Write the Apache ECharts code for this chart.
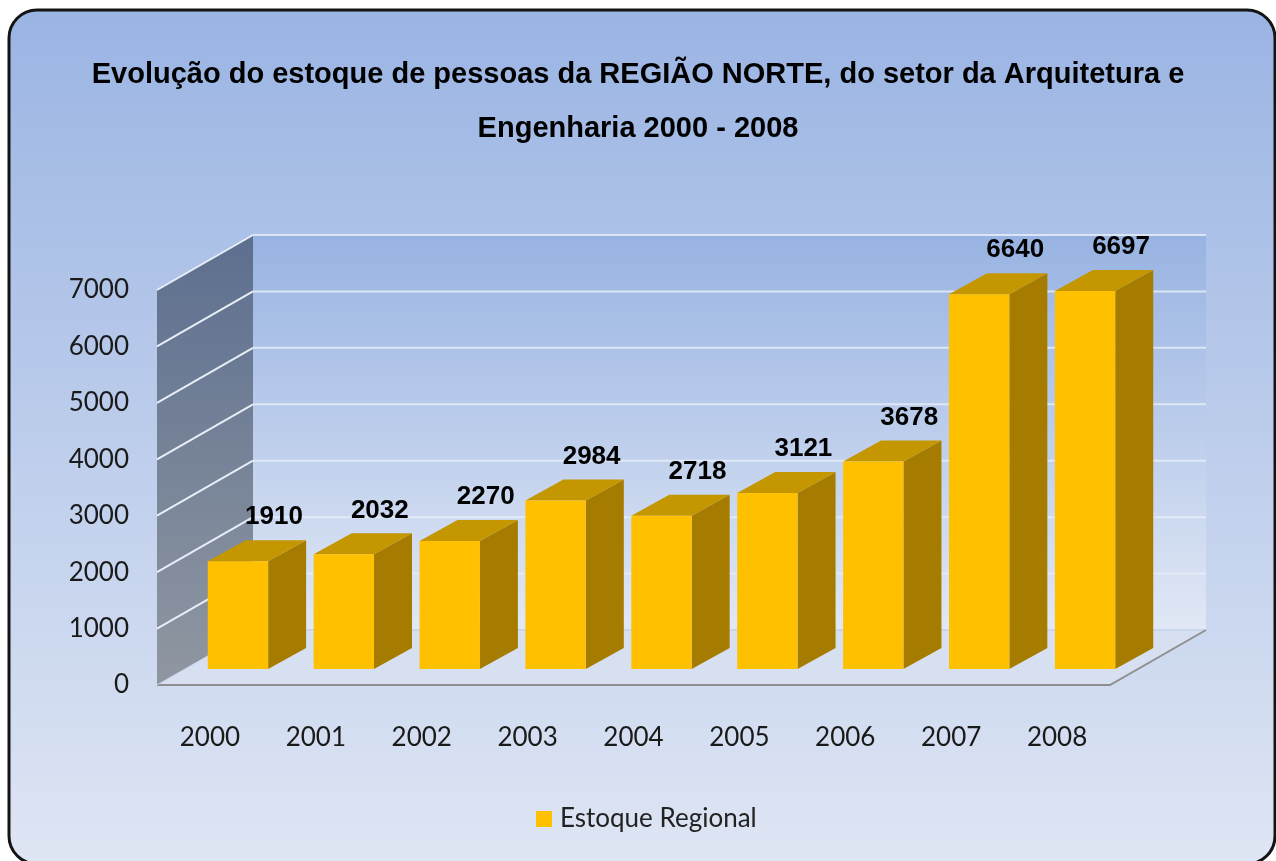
<!DOCTYPE html>
<html>
<head>
<meta charset="utf-8">
<script src="https://cdn.jsdelivr.net/npm/echarts@6/dist/echarts.min.js"></script>
<style>
html,body{margin:0;padding:0;background:#ffffff;}
#chart{width:1276px;height:861px;}
</style>
</head>
<body>
<div id="chart"></div>
<script>
// ---- data ----
const categories = ['2000','2001','2002','2003','2004','2005','2006','2007','2008'];
const values = [1910, 2032, 2270, 2984, 2718, 3121, 3678, 6640, 6697];
const seriesName = 'Estoque Regional';
const titleLines = ['Evolução do estoque de pessoas da REGIÃO NORTE, do setor da Arquitetura e', 'Engenharia 2000 - 2008'];
const yMin = 0, yMax = 7000, yStep = 1000;

// ---- 3D styling (pixels) ----
const WALL = [96, -55];      // depth of the chart box
const FRONT = [28, -16];     // front face plane of the bars
const BAR = [38, -21];       // depth of bars
const BAR_W = 0.57;          // bar width fraction of category

const chart = echarts.init(document.getElementById('chart'));

function wallsRender(params, api) {
  const cs = params.coordSys;
  const x0 = cs.x, x1 = cs.x + cs.width;
  const yb = api.coord([0, yMin])[1];
  const yt = api.coord([0, yMax])[1];
  const dx = WALL[0], dy = WALL[1];
  const children = [];
  children.push({type:'rect', shape:{x:x0+dx, y:yt+dy, width:cs.width, height:yb-yt},
    style:{fill:new echarts.graphic.LinearGradient(0,0,0,1,[{offset:0,color:'#98B3E2'},{offset:1,color:'#E1E8F5'}])}});
  children.push({type:'polygon', shape:{points:[[x0,yt],[x0+dx,yt+dy],[x0+dx,yb+dy],[x0,yb]]},
    style:{fill:new echarts.graphic.LinearGradient(0,0,0,1,[{offset:0,color:'#5D6F8F'},{offset:1,color:'#9097A1'}])}});
  children.push({type:'polygon', shape:{points:[[x0,yb],[x0+dx,yb+dy],[x1+dx,yb+dy],[x1,yb]]},
    style:{fill:'#D7E0F1'}});
  for (let v = yMin + yStep; v <= yMax; v += yStep) {
    const y = api.coord([0, v])[1];
    children.push({type:'line', shape:{x1:x0+dx, y1:y+dy, x2:x1+dx, y2:y+dy}, style:{stroke:'#E4ECF8', lineWidth:2, opacity:0.85}});
    children.push({type:'line', shape:{x1:x0, y1:y, x2:x0+dx, y2:y+dy}, style:{stroke:'#E8EEF8', lineWidth:2}});
  }
  children.push({type:'line', shape:{x1:x0+dx, y1:yb+dy, x2:x1+dx, y2:yb+dy}, style:{stroke:'#C2D0EA', lineWidth:1.5}});
  children.push({type:'polyline', shape:{points:[[x0,yb],[x1,yb],[x1+dx,yb+dy]]}, style:{stroke:'#8F8F8F', lineWidth:2, fill:null}});
  children.push({type:'line', shape:{x1:x0, y1:yb, x2:x0+dx, y2:yb+dy}, style:{stroke:'#C8D2E4', lineWidth:1}});
  return {type:'group', children};
}

function barsRender(params, api) {
  const i = api.value(0), v = api.value(1);
  const top = api.coord([i, v]);
  const base = api.coord([i, 0]);
  const bw = api.size([1, 0])[0] * BAR_W;
  const x0 = top[0] - bw/2 + FRONT[0], x1 = x0 + bw;
  const yt = top[1] + FRONT[1], yb = base[1] + FRONT[1];
  const bx = BAR[0], by = BAR[1];
  return {type:'group', children:[
    {type:'polygon', shape:{points:[[x1,yt],[x1+bx,yt+by],[x1+bx,yb+by],[x1,yb]]}, style:{fill:'#A67C00'}},
    {type:'polygon', shape:{points:[[x0,yt],[x0+bx,yt+by],[x1+bx,yt+by],[x1,yt]]}, style:{fill:'#C49600'}},
    {type:'rect', shape:{x:x0, y:yt, width:bw, height:yb-yt}, style:{fill:'#FFC000'}},
    {type:'text', x: top[0] + FRONT[0] + 36, y: yt - 44,
      style:{text:String(v), fill:'#000', font:'bold 26px "Liberation Sans", Arial, sans-serif', align:'center', verticalAlign:'middle'}}
  ]};
}

chart.setOption({
  backgroundColor: 'transparent',
  animation: false,
  graphic: [{
    type:'rect', z:-10, silent:true,
    shape:{x:9, y:10, width:1266, height:854, r:28},
    style:{fill:new echarts.graphic.LinearGradient(0,0,0,1,[{offset:0,color:'#9AB4E3'},{offset:1,color:'#DFE6F4'}]), stroke:'#141414', lineWidth:3}
  }],
  title: {
    text: titleLines.join('\n'),
    left: 'center', top: 43,
    textStyle: {fontFamily:'"Liberation Sans", Arial, sans-serif', fontWeight:'bold', fontSize:29, lineHeight:54, color:'#000'}
  },
  legend: {
    data:[seriesName], left: 531, top: 801, itemWidth:16, itemHeight:16, icon:'rect', itemGap:10,
    textStyle:{fontFamily:'Lato, "Open Sans", sans-serif', fontSize:26, color:'#222', padding:[0,0,0,3]}
  },
  grid: {left:157, right:1276-1110, top:290, bottom:861-685},
  xAxis: {
    type:'category', data:categories,
    axisLine:{show:false}, axisTick:{show:false},
    axisLabel:{margin:40, fontFamily:'Lato, "Open Sans", sans-serif', fontSize:26, color:'#1a1a1a'}
  },
  yAxis: {
    type:'value', min:yMin, max:yMax, interval:yStep,
    axisLine:{show:false}, axisTick:{show:false}, splitLine:{show:false},
    axisLabel:{margin:28, formatter:(v)=>String(v), fontFamily:'Lato, "Open Sans", sans-serif', fontSize:26, color:'#1a1a1a'}
  },
  series: [
    {type:'custom', name:'walls', silent:true, z:1, renderItem:wallsRender, data:[[0,0]], tooltip:{show:false}},
    {type:'custom', name:seriesName, z:2, renderItem:barsRender, itemStyle:{color:'#FFC000'},
      encode:{x:0, y:1}, data: values.map((v,i)=>[i,v])}
  ]
});
</script>
</body>
</html>
